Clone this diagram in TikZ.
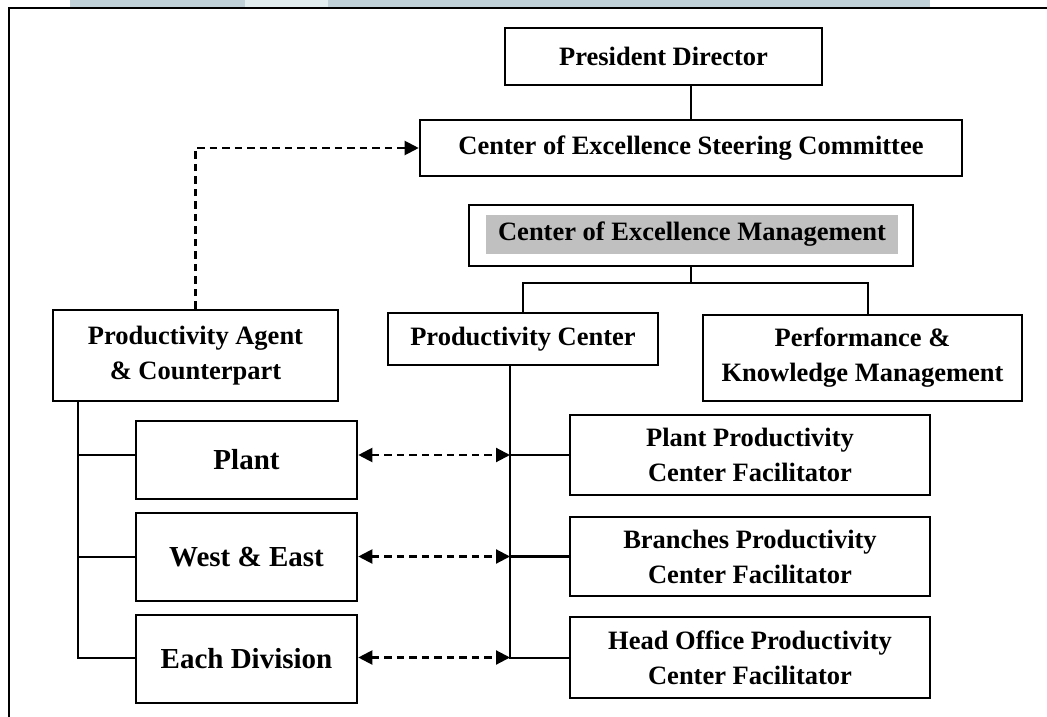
\documentclass[tikz,border=0pt]{standalone}
\usepackage{fontspec}
\setmainfont{Liberation Serif}
\usetikzlibrary{arrows.meta}
\definecolor{bandblue}{RGB}{192,210,216}
\definecolor{bandlight}{RGB}{226,237,240}
\definecolor{mgmtgray}{RGB}{192,192,192}
\begin{document}
\begin{tikzpicture}[x=1pt,y=-1pt,
  box/.style={draw,line width=2.6pt,rectangle,inner sep=0pt,align=center,
    font=\fontsize{26.5}{35}\selectfont\bfseries},
  bigbox/.style={box,font=\fontsize{29}{35}\selectfont\bfseries},
  conn/.style={line width=2.3pt},
  dconn/.style={line width=2.1pt,dash pattern=on 7.5pt off 5pt},
  tip/.style={-{Triangle[length=14pt,width=14pt]}},
  dtip/.style={{Triangle[length=14pt,width=14pt]}-{Triangle[length=14pt,width=14pt]}}]
\useasboundingbox (0,0) rectangle (1047,717);
% top band and frame
\fill[bandblue] (70,0) rectangle (930,7);
\fill[bandlight] (245,0) rectangle (328,7);
\draw[line width=1.8pt] (9,717) -- (9,8) -- (1047,8);
% nodes
\node[box,minimum width=317pt,minimum height=57pt] (pres) at (663.5,56.5) {President Director};
\node[box,minimum width=542pt,minimum height=56pt] (steer) at (691,148) {Center of Excellence Steering Committee};
\node[draw,line width=2.6pt,rectangle,inner sep=0pt,minimum width=444pt,minimum height=61pt] (mgmt) at (691,235.5) {};
\node[box,draw=none,fill=mgmtgray,minimum width=412pt,minimum height=39pt] (mgmttext) at (692,234.5) {Center of Excellence Management};
\node[box,minimum width=270pt,minimum height=52pt] (pc) at (523,339) {Productivity Center};
\node[box,minimum width=319pt,minimum height=86pt] (perf) at (862.5,358) {Performance \&\\Knowledge Management};
\node[box,minimum width=285pt,minimum height=91pt] (agent) at (195.5,355.5) {Productivity Agent\\\& Counterpart};
\node[bigbox,minimum width=221pt,minimum height=78pt] (plant) at (246.5,460) {Plant};
\node[bigbox,minimum width=221pt,minimum height=88pt] (west) at (246.5,557) {West \& East};
\node[bigbox,minimum width=221pt,minimum height=88pt] (each) at (246.5,659) {Each Division};
\node[box,minimum width=360pt,minimum height=80pt] (ppcf) at (750,455) {Plant Productivity\\Center Facilitator};
\node[box,minimum width=360pt,minimum height=79pt] (bpcf) at (750,556.5) {Branches Productivity\\Center Facilitator};
\node[box,minimum width=360pt,minimum height=81pt] (hpcf) at (750,657.5) {Head Office Productivity\\Center Facilitator};
% helper coordinates
\coordinate (mbus) at (691,283);
\coordinate (pbus) at (868,283);
\coordinate (ltrunk) at (78,658);
\coordinate (rtrunk) at (510,658);
% solid connectors
\draw[conn] (pres.south -| steer.north) -- (steer.north);
\draw[conn] (mgmt.south) -- (mbus);
\draw[conn] (pc.north) |- (mbus) -- (pbus) -- (pbus |- perf.north);
\draw[conn] (agent.south -| ltrunk) -- (ltrunk) -- (ltrunk -| each.west);
\draw[conn] (ltrunk |- ppcf.west) -- (plant.west |- ppcf.west);
\draw[conn] (ltrunk |- west.west) -- (west.west);
\draw[conn] (pc.south -| rtrunk) -- (rtrunk) -- (rtrunk -| hpcf.west);
\draw[conn] (rtrunk |- ppcf.west) -- (ppcf.west);
\draw[conn] (rtrunk |- bpcf.west) -- (bpcf.west);
% dashed connectors
\draw[dconn,tip] (agent.north) |- (steer.west);
\draw[dconn,dtip] (plant.east |- ppcf.west) -- (rtrunk |- ppcf.west);
\draw[dconn,dtip] (west.east |- bpcf.west) -- (rtrunk |- bpcf.west);
\draw[dconn,dtip] (each.east |- hpcf.west) -- (rtrunk |- hpcf.west);
\end{tikzpicture}
\end{document}
